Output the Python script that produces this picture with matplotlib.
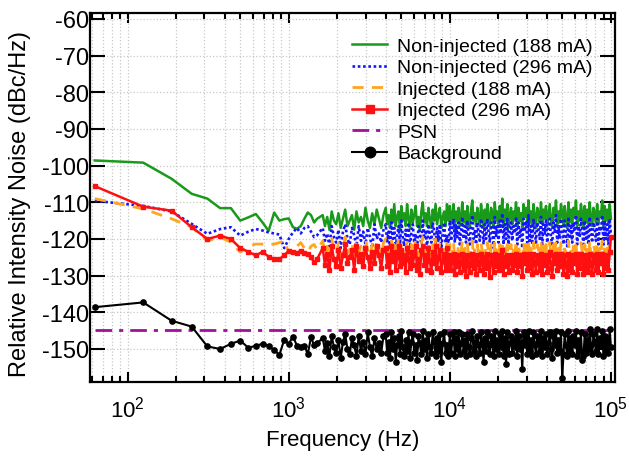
import numpy as np
import matplotlib
matplotlib.use("Agg")
import matplotlib.pyplot as plt
from matplotlib.ticker import LogFormatterMathtext, LogLocator, NullFormatter

plt.rcParams['font.family'] = ['Liberation Sans', 'DejaVu Sans']
plt.rcParams['mathtext.fontset'] = 'custom'
plt.rcParams['mathtext.rm'] = 'Liberation Sans'
plt.rcParams['mathtext.it'] = 'Liberation Sans:italic'
plt.rcParams['axes.unicode_minus'] = False

# ---------------- data ----------------
freq_step = 62.5            # Hz, spectral bin spacing
n_low = list(range(1, 25))  # first bins, drawn one by one (62.5 .. 1500 Hz)
seg_edges = [1625.0, 4000.0, 10000.0, 100000.0]   # Hz, sampled sub-ranges of the dense part

green_low = [-98.6, -99.2, -103.6, -107.7, -109.0, -111.6, -111.6, -115.0, -114.1, -113.2,
             -115.5, -117.8, -112.8, -115.0, -114.6, -114.4, -116.8, -117.2, -116.5, -114.5,
             -112.8, -113.5, -115.5, -114.5]
green_a = [-113.5, -116.5, -114, -117.5, -112.5, -115, -116, -113, -117, -114.5, -112, -116.5,
           -115, -113.5, -117.5, -112.5, -115.5, -114, -116.5, -111.5, -115, -117, -113, -116,
           -112, -114.5, -117, -113.5]
green_b = [-111.5, -116, -113.5, -117, -112, -115.5, -110.5, -116.5, -114, -112.5, -117.5, -111,
           -115, -113, -116.5, -110.5, -114.5, -117, -112, -115.5, -113.5, -111, -116.5, -114,
           -117.5, -112.5, -110, -115.5, -113, -116.5, -111.5, -114.5, -117, -112, -115, -110.5,
           -116, -113.5, -111.5, -117, -114, -112.5, -116.5, -110.5, -115]
green_c = [-111, -116, -113.5, -110.5, -117, -112.5, -115, -111.5, -116.5, -114, -110, -115.5, -112.5,
           -116.5, -111, -114.5, -117, -112, -109.5, -115, -113, -116.5, -111.5, -114, -116, -110.5,
           -113.5, -117, -112, -115.5, -110.5, -114, -116.5, -111.5, -113, -117, -110, -115, -112.5,
           -116, -111, -114.5, -109, -116.5, -112, -115, -110.5, -117, -113.5, -111.5, -116, -112.5,
           -114.5, -110, -116.5, -111.5, -115, -113, -117, -110.5, -114, -111.5, -116, -109.5, -115.5,
           -112.5, -116.5, -110.5, -114, -117, -111.5, -113, -115.5, -110, -116, -112, -114.5, -111,
           -116.5, -113.5, -110.5, -115, -117, -111.5, -114, -109.5, -116, -112.5, -115.5, -110.5, -113,
           -116.5, -111, -114.5, -117, -110, -115.5, -112, -116, -111.5, -114, -109.5, -116.5, -112.5,
           -115, -110.5, -113.5, -117, -111, -115.5, -112, -116, -110, -114.5, -116.5, -111.5, -113,
           -115.5, -110.5, -116, -112.5, -114, -109.5, -116.5, -111, -115, -112, -116, -110.5, -114.5]

blue_low = [-109.6, -111.0, -112.5, -115.9, -118.6, -117.3, -116.8, -119.1, -118.0, -117.3,
            -117.7, -118.2, -118.5, -118.8, -122.5, -120.0, -118.2, -117.0, -118.5, -117.0,
            -116.5, -118.0, -119.5, -119.0]
blue_a = [-117, -120.5, -118.5, -122, -116.5, -119.5, -121, -117.5, -122.5, -118, -116, -120,
          -121.5, -117, -119, -122, -116.5, -120.5, -118, -121.5, -117, -119.5, -122.5, -116,
          -120, -118.5, -121, -117.5]
blue_b = [-116, -121, -118, -122.5, -115.5, -120, -117, -123, -119, -116.5, -121.5, -115,
          -119.5, -122, -117.5, -120.5, -115.5, -122.5, -118, -116, -121, -119, -123, -116.5,
          -118.5, -121.5, -115, -120, -117.5, -122.5, -116, -119.5, -121, -115.5, -118, -122,
          -117, -120.5, -116, -123, -118.5, -115.5, -121, -119, -122]
blue_c = [-115, -120.5, -117.5, -114.5, -121, -116, -119.5, -115.5, -121.5, -118, -114, -120, -116.5,
          -121, -115, -119, -121.5, -116, -113.5, -120, -117.5, -121.5, -115.5, -118.5, -120.5, -114.5,
          -117, -121.5, -116, -120, -114.5, -118, -121, -115.5, -117, -122.5, -114, -119.5, -116.5,
          -121, -115, -118.5, -113, -121.5, -116, -120, -114.5, -121.5, -117.5, -115.5, -120.5, -116.5,
          -118.5, -114, -121.5, -115.5, -119.5, -117, -122.5, -114.5, -118, -115.5, -121, -113.5, -120.5,
          -116.5, -121.5, -114.5, -118, -121, -115.5, -117, -120, -114, -121.5, -116, -118.5, -115,
          -121, -117.5, -114.5, -119.5, -121.5, -115.5, -118, -113.5, -121, -116.5, -120, -114.5, -117,
          -121.5, -115, -118.5, -122, -114, -120, -116, -121, -115.5, -118, -113.5, -121.5, -116.5,
          -119.5, -114.5, -117.5, -121.5, -115, -120.5, -116, -121.5, -114, -118.5, -121, -115.5, -117,
          -120.5, -114.5, -121.5, -116.5, -118, -113.5, -121.5, -115, -120, -116, -121.5, -114.5, -119]

orange_low = [-109.0, -111.8, -114.5, -116.8, -120.5, -119.5, -120.9, -123.6, -122.0, -121.4,
              -121.4, -121.6, -121.4, -121.0, -120.5, -123.6, -124.0, -122.0, -121.0, -122.5,
              -123.5, -122.0, -121.5, -123.0]
orange_a = [-120.5, -124, -122, -125.5, -120, -123, -124.5, -121, -125, -122.5, -119.5, -124,
            -123, -121, -125.5, -120.5, -123.5, -122, -124.5, -120, -123, -125, -121.5, -124,
            -120.5, -122.5, -125, -121]
orange_b = [-120, -125, -122, -126.5, -120.5, -124, -121.5, -127, -123, -119.5, -125.5, -121,
            -124.5, -122.5, -126.5, -120, -123.5, -127, -121.5, -125, -122.5, -120, -126, -123.5,
            -127, -121, -119.5, -125, -122.5, -126.5, -120.5, -124, -127, -121.5, -124.5, -120,
            -126, -123, -121, -127, -124, -122, -126.5, -120, -125]
orange_c = [-121.5, -125.5, -123, -121, -126.5, -122.5, -124.5, -121.5, -126, -123.5, -120.5, -125.5, -122.5,
            -127, -121.5, -124, -126.5, -122, -120.5, -125, -123, -127, -121.5, -124, -126, -121,
            -123.5, -126.5, -122, -125, -121, -124, -127.5, -121.5, -123, -126.5, -120.5, -125, -122.5,
            -126, -121.5, -124.5, -120.5, -127, -122, -125, -121.5, -127, -123.5, -121.5, -125.5, -122.5,
            -124.5, -120.5, -126.5, -121.5, -124.5, -123, -128, -121, -124, -121.5, -126, -120.5, -125,
            -122.5, -127, -121, -124, -126.5, -121.5, -123, -125.5, -120.5, -127, -122, -124.5, -121.5,
            -126.5, -123.5, -121, -125, -127.5, -121.5, -124, -120.5, -126, -122.5, -125, -121, -123,
            -127, -121.5, -124.5, -127.5, -120.5, -125.5, -122, -126.5, -121.5, -124, -120.5, -127, -122.5,
            -125, -121, -123.5, -127, -121.5, -125.5, -122, -126.5, -120.5, -124.5, -127, -121.5, -123,
            -126, -121, -126.5, -122.5, -124, -120.5, -127, -121.5, -125, -122, -126, -121, -120]

red_low = [-105.6, -111.2, -112.3, -116.8, -120.0, -119.1, -120.0, -122.5, -123.5, -124.5,
           -123.5, -124.8, -125.5, -125.5, -124.5, -123.2, -123.6, -123.8, -123.2, -123.8,
           -124.0, -125.0, -126.4, -125.5]
red_a = [-122.5, -127, -124, -128.5, -122, -125.5, -127.5, -123, -128, -124.5, -121.5, -126.5,
         -125, -123, -128.5, -122, -126, -124, -127.5, -122.5, -125, -128, -123.5, -126.5,
         -122, -124.5, -128, -123]
red_b = [-122.5, -127.5, -124.5, -129, -122, -126, -123.5, -128.5, -125, -122, -127.5, -123,
         -126.5, -124.5, -129, -122.5, -125.5, -128, -123.5, -127, -124.5, -122, -128.5, -125.5,
         -129.5, -123, -122, -127, -124.5, -128.5, -122.5, -126, -129, -123.5, -126.5, -122,
         -128, -125, -123, -129, -126, -124, -128.5, -122.5, -127]
red_c = [-124.5, -128.5, -125.5, -124, -129.5, -125.5, -127.5, -124.5, -129, -126.5, -124, -128.5, -125.5,
         -130, -124.5, -127, -129, -125, -124, -128, -125.5, -129.5, -124.5, -126.5, -128.5, -124,
         -126, -129.5, -125, -128, -124, -126.5, -130.5, -124.5, -125.5, -129, -124, -127.5, -125.5,
         -128.5, -124.5, -127, -123, -129.5, -125, -127.5, -124.5, -129, -126, -124.5, -128.5, -125.5,
         -127, -124, -129, -124.5, -127.5, -125.5, -130, -124, -126.5, -124.5, -128.5, -124, -128,
         -125.5, -129.5, -124, -126.5, -129, -124.5, -125.5, -128.5, -124, -129.5, -125, -127, -124.5,
         -129, -126, -123.5, -128, -130, -124.5, -126.5, -124, -128.5, -125.5, -127.5, -124, -125.5,
         -129.5, -124.5, -127, -130, -124, -128.5, -125, -129, -124.5, -126.5, -124, -129.5, -125.5,
         -128, -124, -126, -129.5, -124.5, -128.5, -125, -129, -124, -127, -129.5, -124.5, -125.5,
         -128.5, -124, -129, -125.5, -126.5, -124, -129.5, -124.5, -128, -125, -128.5, -123.5, -119.5]

black_low = [-138.6, -137.3, -142.3, -143.9, -149.3, -150.0, -148.6, -147.7, -149.7, -149.1,
             -148.6, -149.1, -150.3, -151.6, -147.5, -148.6, -146.6, -149.1, -149.5, -149.1,
             -151.4, -146.8, -149.0, -148.5]
black_a = [-147, -150.5, -148.5, -152, -146.5, -149.5, -151, -147.5, -152.5, -148, -146, -150,
           -151.5, -147, -149, -152, -146.5, -150.5, -148, -151.5, -145.5, -149.5, -152, -147,
           -150, -148.5, -151, -146.5]
black_b = [-146, -151, -148, -152.5, -145.5, -150, -147, -153.5, -149, -146.5, -151.5, -145,
           -149.5, -152, -147.5, -150.5, -145.5, -152.5, -148, -146, -151, -149, -153, -146.5,
           -148.5, -151.5, -145, -150, -147.5, -152.5, -146, -149.5, -151, -145.5, -148, -152,
           -147, -150.5, -146, -153.5, -148.5, -145.5, -151, -149, -152]
black_c = [-146, -151, -148, -145.5, -152, -147, -150, -145.5, -151.5, -148.5, -146, -150.5, -147.5,
           -152, -146, -149.5, -151.5, -147, -145, -150.5, -148, -152, -146.5, -149, -151, -145.5,
           -148.5, -153.5, -147, -150.5, -145.5, -149, -151.5, -146.5, -148, -152, -145, -150, -147.5,
           -151.5, -146, -149.5, -145, -152, -147, -154, -145.5, -151.5, -148.5, -146.5, -151, -147.5,
           -149.5, -145, -152, -146.5, -150, -148, -155.5, -145.5, -149, -146.5, -151.5, -145, -150.5,
           -147.5, -152, -145.5, -149, -151.5, -146.5, -148, -150.5, -145, -152, -147, -149.5, -146,
           -151.5, -148.5, -145.5, -150, -152.5, -146.5, -149, -145, -151, -147.5, -150.5, -145.5, -158,
           -151.5, -146, -149, -152, -145, -150.5, -147, -151.5, -146.5, -149, -145, -152, -147.5,
           -150.5, -145.5, -153, -152, -146, -151, -147.5, -150, -144.5, -149, -151.5, -146, -148,
           -150.5, -144.5, -151.5, -147, -149, -145, -152, -146.5, -150.5, -147, -151, -144.5, -149.5]

psn_level = -144.7

labels = ["Non-injected (188 mA)", "Non-injected (296 mA)", "Injected (188 mA)",
          "Injected (296 mA)", "PSN", "Background"]

# ---------------- x grids ----------------
f_low = freq_step * np.array(n_low, dtype=float)


def series(low, a, b, c):
    x = np.concatenate([
        f_low,
        np.geomspace(seg_edges[0], seg_edges[1], len(a), endpoint=False),
        np.geomspace(seg_edges[1], seg_edges[2], len(b), endpoint=False),
        np.geomspace(seg_edges[2], seg_edges[3], len(c)),
    ])
    y = np.array(low + a + b + c, dtype=float)
    return x, y


# ---------------- figure ----------------
fig = plt.figure(figsize=(6.29, 4.60), dpi=100)
ax = fig.add_axes([90 / 629, 1 - 383 / 460, (615 - 90) / 629, (383 - 14) / 460])

x, y = series(green_low, green_a, green_b, green_c)
ax.plot(x, y, color='#1a9a1a', lw=1.8, label=labels[0], zorder=3)
x, y = series(blue_low, blue_a, blue_b, blue_c)
ax.plot(x, y, color='#1414ff', lw=1.9, ls=(0, (1, 1)), label=labels[1], zorder=4)
x, y = series(orange_low, orange_a, orange_b, orange_c)
ax.plot(x, y, color='#ffa51f', lw=2.0, ls=(0, (4, 3)), label=labels[2], zorder=5)
x, y = series(red_low, red_a, red_b, red_c)
ax.plot(x, y, color='#ff1010', lw=1.8, marker='s', ms=3.2, label=labels[3], zorder=6)
ax.plot([f_low[0], seg_edges[-1]], [psn_level, psn_level], color='#a0109a', lw=2.0,
        ls=(0, (6, 2.5, 1.5, 2.5)), label=labels[4], zorder=7)
x, y = series(black_low, black_a, black_b, black_c)
ax.plot(x, y, color='black', lw=1.5, marker='o', ms=3.8, label=labels[5], zorder=8)

ax.set_xscale('log')
ax.set_xlim(58.4, 1.06e5)
ax.set_ylim(-159, -58.4)
ax.set_yticks(np.arange(-150, -59, 10))
ax.xaxis.set_major_locator(LogLocator(base=10, numticks=10))
ax.xaxis.set_minor_locator(LogLocator(base=10, subs=np.arange(2, 10), numticks=20))
ax.xaxis.set_major_formatter(LogFormatterMathtext())
ax.xaxis.set_minor_formatter(NullFormatter())

ax.grid(which='major', axis='both', ls=':', color='#c8c8c8', lw=0.9)
ax.grid(which='minor', axis='x', ls=':', color='#c8c8c8', lw=0.9)
ax.set_axisbelow(True)

ax.tick_params(which='both', direction='in', top=True, right=True, width=1.5)
ax.tick_params(axis='y', which='major', length=11, labelsize=17, pad=0.5)
ax.tick_params(axis='x', which='major', length=7, labelsize=16, pad=10)
ax.tick_params(axis='x', which='minor', length=4)
for s in ax.spines.values():
    s.set_linewidth(1.6)

ax.set_xlabel("Frequency (Hz)", fontsize=16)
ax.xaxis.set_label_coords(0.482, -0.127)
ax.set_ylabel("Relative Intensity Noise (dBc/Hz)", fontsize=17)
ax.yaxis.set_label_coords(-0.112, 0.485)

leg = ax.legend(loc='upper right', bbox_to_anchor=(0.98, 0.966), frameon=False,
                fontsize=14, labelspacing=0.2, handlelength=1.8, handletextpad=0.5,
                markerscale=2.0, borderaxespad=0.2)

fig.savefig("out.png", dpi=100)
